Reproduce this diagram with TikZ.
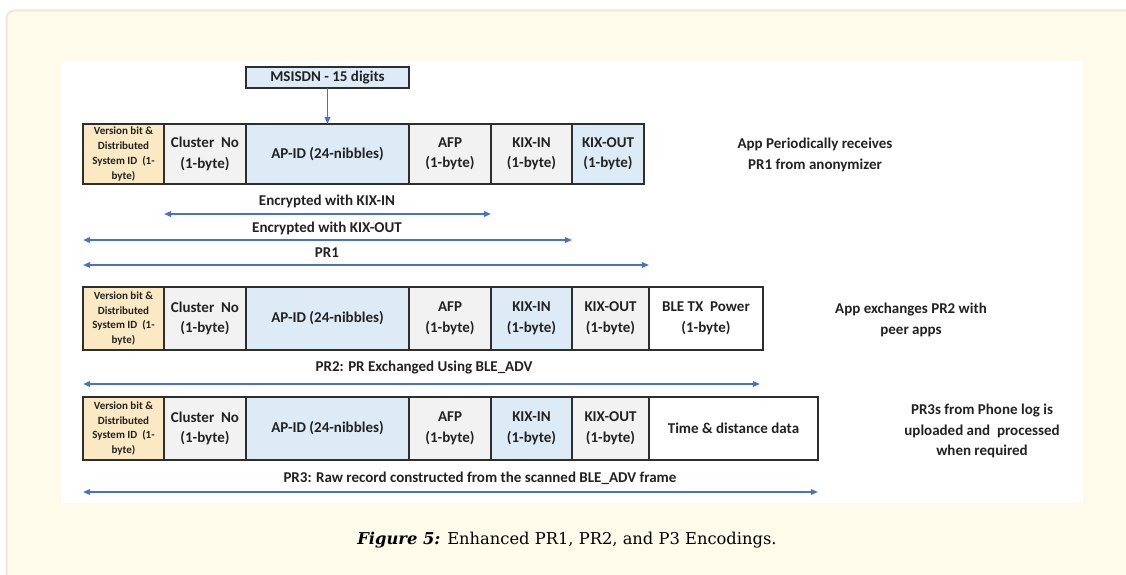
\documentclass[tikz,border=0pt]{standalone}
\usepackage{fontspec}
\setmainfont{DejaVu Serif}
\newfontfamily\diag{Carlito}
\usetikzlibrary{arrows.meta}

\definecolor{pagecream}{HTML}{FEFBEA}
\definecolor{panelrim}{HTML}{ECE9D9}
\definecolor{cellyellow}{HTML}{FBE9C4}
\definecolor{cellblue}{HTML}{DDEBF7}
\definecolor{cellgray}{HTML}{F2F2F2}
\definecolor{cellrule}{HTML}{2E2E2E}
\definecolor{spanblue}{HTML}{4A72C0}
\definecolor{inktext}{HTML}{222222}

\tikzset{
  cell/.style={draw=cellrule, line width=1.8pt, inner sep=0pt, outer sep=0pt,
    align=center, anchor=north west, text=inktext,
    font=\diag\bfseries\fontsize{15}{20.5}\selectfont},
  smallcell/.style={cell, font=\diag\bfseries\fontsize{11}{14.7}\selectfont},
  label/.style={text=inktext, inner sep=0pt, align=center,
    font=\diag\bfseries\fontsize{15}{21}\selectfont},
  span/.style={draw=spanblue, line width=1.6pt,
    {Triangle[length=7pt,width=5.5pt]}-{Triangle[length=7pt,width=5.5pt]}},
  feed/.style={draw=spanblue, line width=1.6pt, -{Triangle[length=7pt,width=5.5pt]}}
}

% field cell: style, name, left x, right x, top y, bottom y, fill, text
\newcommand\fieldcell[8][cell]{%
  \node[#1, fill=#7, minimum width=#4-#3, minimum height=#6-#5] (#2) at (#3,#5) {#8};}

\begin{document}
\begin{tikzpicture}[x=1pt,y=-1pt]
\useasboundingbox (0,0) rectangle (1126,575);
\fill[white] (0,0) rectangle (1126,575);

% page panel and figure area
\draw[panelrim, line width=2pt, fill=pagecream, rounded corners=8pt]
  (6.5,10.5) rectangle (1150,600);
\fill[white] (61,61) rectangle (1083,503);

% ---------- PR1 ----------
\fieldcell[cell]{msisdn}{246}{409}{67}{88}{cellblue}{MSISDN - 15 digits}

\fieldcell[smallcell]{a1}{83}{164}{124}{184}{cellyellow}{Version bit \&\\Distributed\\System ID \ (1-\\byte)}
\fieldcell{b1}{164}{246}{124}{184}{cellgray}{Cluster\ \ No\\(1-byte)}
\fieldcell{c1}{246}{409}{124}{184}{cellblue}{AP-ID (24-nibbles)}
\fieldcell{d1}{409}{491}{124}{184}{cellgray}{AFP\\(1-byte)}
\fieldcell{e1}{491}{572}{124}{184}{cellgray}{KIX-IN\\(1-byte)}
\fieldcell{f1}{572}{644}{124}{184}{cellblue}{KIX-OUT\\(1-byte)}

\draw[feed] (msisdn.south) -- (c1.north);

\node[label] (note1) at (815,155) {App Periodically receives\\PR1 from anonymizer};

\coordinate (kinL) at (164,214);  \coordinate (kinR) at (491,214);
\coordinate (koutL) at (83,240);  \coordinate (koutR) at (572,240);
\coordinate (pr1L) at (83,265);   \coordinate (pr1R) at (649,265);
\draw[span] (kinL) -- (kinR);
\draw[span] (koutL) -- (koutR);
\draw[span] (pr1L) -- (pr1R);
\node[label] (kinlab) at (327,201) {Encrypted with KIX-IN};
\node[label] (koutlab) at (327,228) {Encrypted with KIX-OUT};
\node[label] (pr1lab) at (327,253) {PR1};

% ---------- PR2 ----------
\fieldcell[smallcell]{a2}{83}{164}{287}{350}{cellyellow}{Version bit \&\\Distributed\\System ID \ (1-\\byte)}
\fieldcell{b2}{164}{246}{287}{350}{cellgray}{Cluster\ \ No\\(1-byte)}
\fieldcell{c2}{246}{409}{287}{350}{cellblue}{AP-ID (24-nibbles)}
\fieldcell{d2}{409}{491}{287}{350}{cellgray}{AFP\\(1-byte)}
\fieldcell{e2}{491}{572}{287}{350}{cellblue}{KIX-IN\\(1-byte)}
\fieldcell{f2}{572}{649}{287}{350}{cellgray}{KIX-OUT\\(1-byte)}
\fieldcell{g2}{649}{763}{287}{350}{white}{BLE TX\ \ Power\\(1-byte)}

\node[label] (note2) at (911,320) {App exchanges PR2 with\\peer apps};

\coordinate (pr2L) at (83,384);  \coordinate (pr2R) at (760,384);
\draw[span] (pr2L) -- (pr2R);
\node[label] (pr2lab) at (424,368) {PR2: PR Exchanged Using BLE\_ADV};

% ---------- PR3 ----------
\fieldcell[smallcell]{a3}{83}{164}{397}{460}{cellyellow}{Version bit \&\\Distributed\\System ID \ (1-\\byte)}
\fieldcell{b3}{164}{246}{397}{460}{cellgray}{Cluster\ \ No\\(1-byte)}
\fieldcell{c3}{246}{409}{397}{460}{cellblue}{AP-ID (24-nibbles)}
\fieldcell{d3}{409}{491}{397}{460}{cellgray}{AFP\\(1-byte)}
\fieldcell{e3}{491}{572}{397}{460}{cellblue}{KIX-IN\\(1-byte)}
\fieldcell{f3}{572}{649}{397}{460}{cellgray}{KIX-OUT\\(1-byte)}
\fieldcell{g3}{649}{818}{397}{460}{white}{Time \& distance data}

\node[label, font=\diag\bfseries\fontsize{15}{20.5}\selectfont] (note3) at (982,431)
  {PR3s from Phone log is\\uploaded and\ \ processed\\when required};

\coordinate (pr3L) at (83,492);  \coordinate (pr3R) at (818,492);
\draw[span] (pr3L) -- (pr3R);
\node[label] (pr3lab) at (480,478) {PR3: Raw record constructed from the scanned BLE\_ADV frame};

% ---------- caption ----------
\node[text=black, inner sep=0pt, font=\fontsize{16.3}{19}\selectfont] (caption) at (567,540)
  {\textbf{\textit{Figure 5:}} Enhanced PR1, PR2, and P3 Encodings.};
\end{tikzpicture}
\end{document}
